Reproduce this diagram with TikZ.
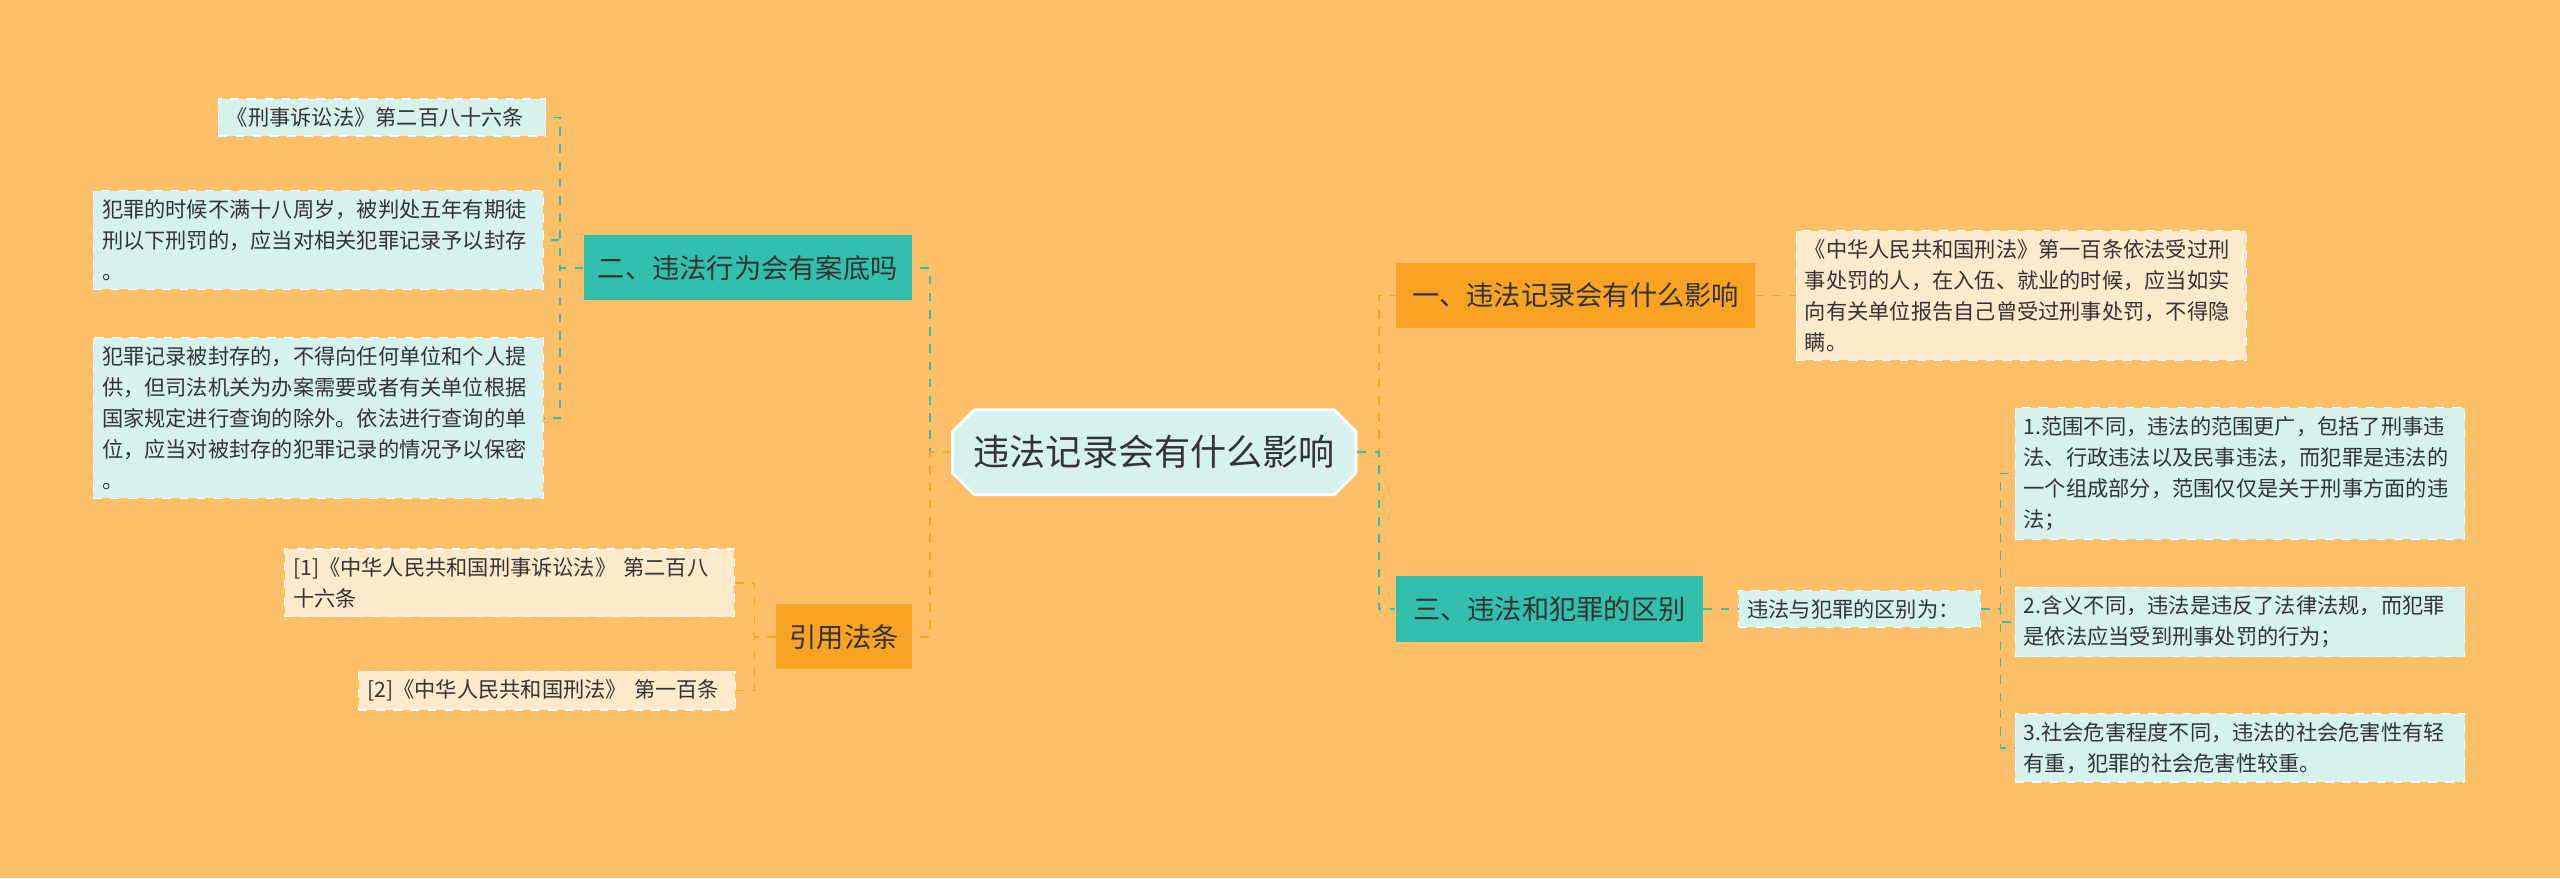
\documentclass[tikz,border=0pt]{standalone}
\usepackage{fontspec}
\setmainfont{Noto Sans CJK SC}
\usetikzlibrary{shapes.misc}
\definecolor{bgc}{HTML}{FEBF69}
\definecolor{orng}{HTML}{F8A324}
\definecolor{teal}{HTML}{33BFAE}
\definecolor{lcyan}{HTML}{D5F2EE}
\definecolor{cream}{HTML}{FDE9CB}
\definecolor{txt}{HTML}{333333}
\tikzset{
  root/.style={chamfered rectangle, chamfered rectangle xsep=4pt, fill=lcyan, draw=white, line width=1pt, minimum width=4.9cm, minimum height=1.04cm, font=\fontsize{12.6}{15}\selectfont, text=txt},
  topic/.style={rectangle, minimum height=0.8cm, inner xsep=4pt, font=\fontsize{9.5}{12}\selectfont, text=txt},
  leaf/.style={rectangle, draw=white, dashed, align=left, inner sep=3pt, font=\fontsize{7.4}{10.8}\selectfont, text=txt},
  olink/.style={draw=orng, dashed, line width=0.6pt},
  tlink/.style={draw=teal, dashed, line width=0.6pt}
}
\begin{document}
\begin{tikzpicture}[x=0.02cm, y=-0.02cm]
    \fill[bgc] (0,-1) rectangle (1568,537);
    \useasboundingbox (0,0) rectangle (1568,536);

    \node[root] (main) at (707,276) {违法记录会有什么影响};

    % right side
    \node[topic, fill=orng, minimum width=4.4cm] (effect) at (965,180) {一、违法记录会有什么影响};
    \node[leaf, fill=cream, text width=5.3cm] (law) at (1238,180) {《中华人民共和国刑法》第一百条依法受过刑\\事处罚的人，在入伍、就业的时候，应当如实\\向有关单位报告自己曾受过刑事处罚，不得隐\\瞒。};
    \node[topic, fill=teal, minimum width=3.76cm] (diff) at (949,372) {三、违法和犯罪的区别};
    \node[leaf, fill=lcyan, text width=2.75cm] (diffhead) at (1139,372) {违法与犯罪的区别为：};
    \node[leaf, fill=lcyan, text width=5.3cm] (scope) at (1372,289) {1.范围不同，违法的范围更广，包括了刑事违\\法、行政违法以及民事违法，而犯罪是违法的\\一个组成部分，范围仅仅是关于刑事方面的违\\法；};
    \node[leaf, fill=lcyan, text width=5.3cm] (meaning) at (1372,380) {2.含义不同，违法是违反了法律法规，而犯罪\\是依法应当受到刑事处罚的行为；};
    \node[leaf, fill=lcyan, text width=5.3cm] (harm) at (1372,457) {3.社会危害程度不同，违法的社会危害性有轻\\有重，犯罪的社会危害性较重。};

    % left side
    \node[topic, fill=teal, minimum width=4.02cm] (record) at (458,163) {二、违法行为会有案底吗};
    \node[leaf, fill=lcyan, text width=3.8cm] (code) at (234,71) {《刑事诉讼法》第二百八十六条};
    \node[leaf, fill=lcyan, text width=5.3cm] (young) at (195,146) {犯罪的时候不满十八周岁，被判处五年有期徒\\刑以下刑罚的，应当对相关犯罪记录予以封存\\。};
    \node[leaf, fill=lcyan, text width=5.3cm] (sealed) at (195,255) {犯罪记录被封存的，不得向任何单位和个人提\\供，但司法机关为办案需要或者有关单位根据\\国家规定进行查询的除外。依法进行查询的单\\位，应当对被封存的犯罪记录的情况予以保密\\。};
    \node[topic, fill=orng, minimum width=1.66cm] (cite) at (517,389) {引用法条};
    \node[leaf, fill=cream, text width=5.3cm] (refa) at (312,356) {[1]《中华人民共和国刑事诉讼法》 第二百八\\十六条};
    \node[leaf, fill=cream, text width=4.4cm] (refb) at (335,422) {[2]《中华人民共和国刑法》 第一百条};

    % lines
    \draw[olink] (main.east) -- ++(13,0) |- (effect.west);
    \draw[tlink] (main.east) -- ++(13,0) |- (diff.west);
    \draw[tlink] (main.west) -- ++(-13,0) |- (record.east);
    \draw[olink] (main.west) -- ++(-13,0) |- (cite.east);
    \draw[olink] (effect.east) -- (law.west);
    \draw[tlink] (diff.east) -- (diffhead.west);
    \foreach \n in {scope,meaning,harm}
        \draw[tlink] (diffhead.east) -- ++(12,0) |- (\n.west);
    \foreach \n in {code,young,sealed}
        \draw[tlink] (record.west) -- ++(-14,0) |- (\n.east);
    \foreach \n in {refa,refb}
        \draw[olink] (cite.west) -- ++(-13,0) |- (\n.east);
\end{tikzpicture}
\end{document}
